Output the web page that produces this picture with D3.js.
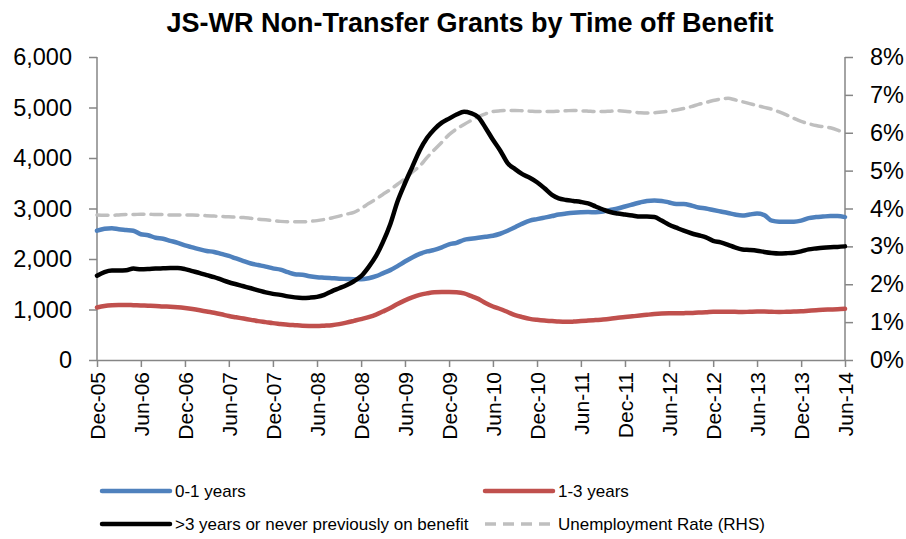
<!DOCTYPE html>
<html>
<head>
<meta charset="utf-8">
<title>JS-WR Non-Transfer Grants</title>
<style>
  body { margin: 0; background: #fff; }
  text { font-family: "Liberation Sans", Arial, sans-serif; }
</style>
</head>
<body>
<div id="chart"></div>
<script src="https://cdn.jsdelivr.net/npm/d3@7"></script>
<script>
// monthly data, Dec-05 .. Jun-14
var startMonth = "2005-12";
var tickLabels = ["Dec-05","Jun-06","Dec-06","Jun-07","Dec-07","Jun-08","Dec-08","Jun-09","Dec-09",
                  "Jun-10","Dec-10","Jun-11","Dec-11","Jun-12","Dec-12","Jun-13","Dec-13","Jun-14"];

var yrs01 = [2560,2600,2610,2590,2575,2560,2490,2470,2420,2400,2360,2320,2270,2230,2190,2160,2140,2100,
             2060,2010,1960,1910,1880,1850,1815,1790,1740,1700,1690,1660,1640,1630,1620,1610,1605,1600,
             1600,1620,1660,1716,1780,1860,1950,2030,2100,2150,2180,2230,2290,2320,2380,2400,2420,2440,
             2460,2500,2560,2630,2700,2760,2790,2820,2850,2880,2900,2915,2925,2930,2925,2940,2970,3000,
             3040,3080,3120,3150,3160,3150,3120,3090,3090,3060,3020,3000,2970,2940,2910,2880,2860,2880,
             2900,2870,2760,2740,2740,2740,2760,2810,2830,2840,2850,2850,2830];

var yrs13 = [1040,1070,1085,1090,1090,1085,1080,1075,1070,1060,1055,1045,1030,1010,985,960,935,905,
             870,845,820,795,770,750,730,715,700,690,680,675,672,680,690,710,740,775,
             810,850,900,960,1030,1110,1180,1240,1290,1320,1340,1345,1345,1340,1320,1270,1210,1130,
             1060,1010,950,890,850,815,795,780,770,760,755,760,770,780,790,800,815,835,
             850,865,880,895,910,920,925,925,928,932,940,945,955,955,955,955,950,955,
             960,960,955,950,955,960,965,975,985,995,1000,1005,1015];

var yrs3plus = [1670,1740,1770,1770,1775,1810,1795,1800,1810,1815,1820,1820,1800,1760,1720,1680,1640,1590,
                1540,1500,1460,1420,1380,1340,1310,1290,1260,1240,1230,1235,1250,1290,1360,1420,1480,1560,
                1660,1840,2060,2330,2690,3140,3500,3820,4150,4400,4570,4700,4780,4860,4915,4890,4810,4600,
                4360,4150,3900,3780,3680,3610,3520,3400,3270,3200,3170,3150,3130,3100,3040,2980,2930,2900,
                2880,2860,2840,2840,2830,2760,2680,2620,2560,2510,2470,2430,2360,2330,2280,2230,2190,2180,
                2165,2140,2120,2110,2115,2125,2150,2190,2210,2225,2235,2240,2250];

// unemployment rate, %
var unemp = [3.83,3.82,3.82,3.83,3.84,3.84,3.85,3.85,3.84,3.84,3.83,3.83,3.83,3.83,3.82,3.81,3.80,3.79,
             3.78,3.77,3.76,3.74,3.72,3.70,3.68,3.66,3.65,3.65,3.65,3.66,3.68,3.71,3.75,3.80,3.85,3.90,
             4.00,4.13,4.25,4.37,4.50,4.64,4.79,4.96,5.12,5.35,5.55,5.75,5.95,6.10,6.22,6.32,6.42,6.50,
             6.56,6.58,6.59,6.59,6.58,6.57,6.56,6.56,6.56,6.57,6.58,6.59,6.58,6.57,6.56,6.56,6.57,6.58,
             6.57,6.55,6.53,6.52,6.53,6.55,6.57,6.60,6.64,6.69,6.75,6.80,6.85,6.89,6.91,6.87,6.82,6.77,
             6.72,6.67,6.62,6.55,6.47,6.38,6.30,6.24,6.19,6.16,6.13,6.07,5.98];

var leftTicks = [0,1000,2000,3000,4000,5000,6000];
var rightTicks = [0,1,2,3,4,5,6,7,8];

var W = 906, H = 539;
var m = {left: 97, right: 61, top: 57, bottom: 179};

var svg = d3.select("#chart").append("svg")
  .attr("width", W).attr("height", H);

var t0 = d3.utcParse("%Y-%m")(startMonth);
var dates = yrs01.map(function(d, i){ return d3.utcMonth.offset(t0, i); });

var x = d3.scaleUtc()
  .domain([dates[0], dates[dates.length-1]])
  .range([m.left, W - m.right]);
var y = d3.scaleLinear().domain([0, 6000]).range([H - m.bottom, m.top]);
var y2 = d3.scaleLinear().domain([0, 8]).range([H - m.bottom, m.top]);

var axisColor = "#868686";

// title
svg.append("text")
  .attr("x", 470).attr("y", 32)
  .attr("text-anchor", "middle")
  .attr("font-size", "27px")
  .attr("font-weight", "bold")
  .text("JS-WR Non-Transfer Grants by Time off Benefit");

// left axis
var gl = svg.append("g")
  .attr("transform", "translate(" + m.left + ",0)")
  .call(d3.axisLeft(y).tickValues(leftTicks).tickSize(8).tickPadding(17)
        .tickFormat(d3.format(",")));

// right axis
var gr = svg.append("g")
  .attr("transform", "translate(" + (W - m.right) + ",0)")
  .call(d3.axisRight(y2).tickValues(rightTicks).tickSize(8).tickPadding(17)
        .tickFormat(function(d){ return d + "%"; }));

// bottom axis
var tickDates = dates.filter(function(d, i){ return i % 6 === 0; });
var gb = svg.append("g")
  .attr("transform", "translate(0," + (H - m.bottom) + ")")
  .call(d3.axisBottom(x).tickValues(tickDates).tickSize(7).tickSizeOuter(0)
        .tickFormat(function(d, i){ return tickLabels[i]; }));

gb.selectAll(".tick text")
  .attr("transform", "rotate(-90)")
  .attr("text-anchor", "end")
  .attr("x", -12).attr("y", 0)
  .attr("dy", "0.35em")
  .attr("font-size", "21px");

[gl, gr, gb].forEach(function(g){
  g.selectAll(".domain").attr("stroke", axisColor).attr("stroke-width", 1.5);
  g.selectAll(".tick line").attr("stroke", axisColor).attr("stroke-width", 1.5);
  g.selectAll(".tick text").attr("fill", "#000").attr("font-family", "Liberation Sans, Arial, sans-serif");
});
gl.selectAll(".tick text").attr("font-size", "23.5px");
gr.selectAll(".tick text").attr("font-size", "23.5px");
gl.select(".domain").attr("d", "M0," + y(6000) + "V" + y(0));
gr.select(".domain").attr("d", "M0," + y2(8) + "V" + y2(0));

// lines
var lineL = d3.line()
  .x(function(d, i){ return x(dates[i]); })
  .y(function(d){ return y(d); })
  .curve(d3.curveMonotoneX);
var lineR = d3.line()
  .x(function(d, i){ return x(dates[i]); })
  .y(function(d){ return y2(d); })
  .curve(d3.curveMonotoneX);

var series = [
  {name: "Unemployment Rate (RHS)", data: unemp, color: "#bfbfbf", width: 3.5, dash: "11,7", right: true},
  {name: "1-3 years", data: yrs13, color: "#c0504d", width: 4.5},
  {name: "0-1 years", data: yrs01, color: "#4f81bd", width: 4.5},
  {name: ">3 years or never previously on benefit", data: yrs3plus, color: "#000000", width: 4.5}
];

series.forEach(function(s){
  svg.append("path")
    .datum(s.data)
    .attr("fill", "none")
    .attr("stroke", s.color)
    .attr("stroke-width", s.width)
    .attr("stroke-linejoin", "round")
    .attr("stroke-linecap", "round")
    .attr("stroke-dasharray", s.dash || null)
    .attr("d", s.right ? lineR : lineL);
});

// legend
var legendItems = [
  {name: "0-1 years", color: "#4f81bd", x: 102, y: 491},
  {name: "1-3 years", color: "#c0504d", x: 485, y: 491},
  {name: ">3 years or never previously on benefit", color: "#000000", x: 102, y: 524},
  {name: "Unemployment Rate (RHS)", color: "#bfbfbf", x: 485, y: 524, dash: "11,7"}
];
var lg = svg.append("g");
legendItems.forEach(function(d){
  lg.append("line")
    .attr("x1", d.x).attr("x2", d.x + 68)
    .attr("y1", d.y).attr("y2", d.y)
    .attr("stroke", d.color)
    .attr("stroke-width", d.dash ? 3.5 : 4.5)
    .attr("stroke-linecap", d.dash ? "butt" : "round")
    .attr("stroke-dasharray", d.dash || null);
  lg.append("text")
    .attr("x", d.x + 73).attr("y", d.y)
    .attr("dy", "0.35em")
    .attr("font-size", "17px")
    .text(d.name);
});
</script>
</body>
</html>
